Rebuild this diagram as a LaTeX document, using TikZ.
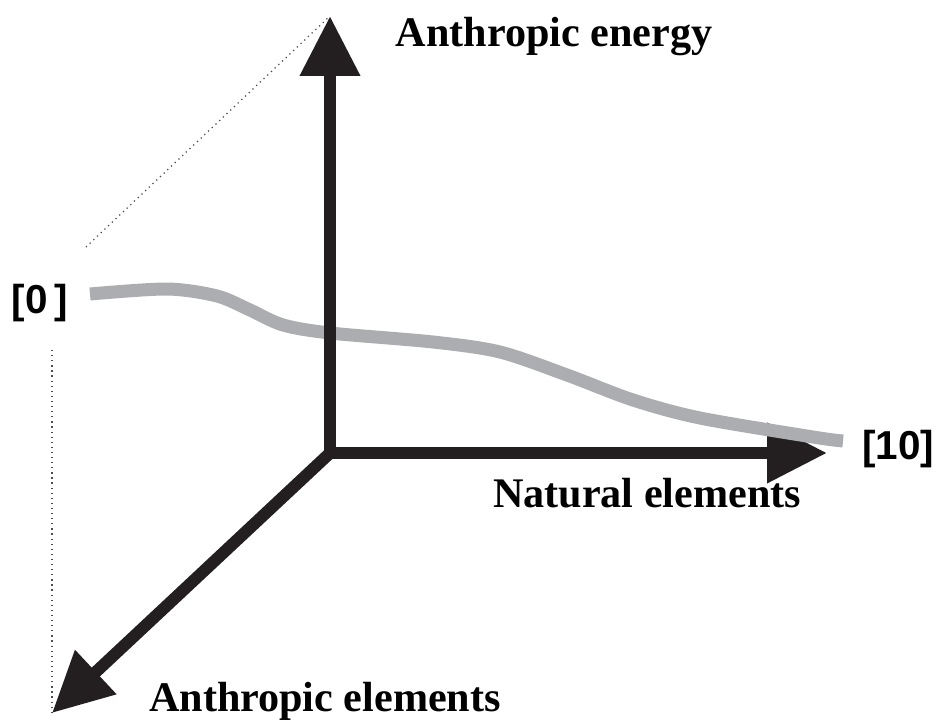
\documentclass[tikz,border=0pt]{standalone}
\usepackage{fontspec}
\setmainfont{Liberation Serif}
\newfontfamily\scalefont{Liberation Sans}
\usetikzlibrary{arrows.meta}

\begin{document}
\begin{tikzpicture}[
    x=0.02cm,y=-0.02cm,
    axis/.style={line width=0.24cm,draw={rgb,255:red,35;green,31;blue,32},
      -{Triangle[length=1.2cm,width=1.15cm]}},
    guide/.style={line width=0.7pt,dash pattern=on 0.7pt off 2.2pt,draw=black!70},
    trend/.style={line width=0.26cm,draw={rgb,255:red,172;green,173;blue,177}},
    axislabel/.style={font=\fontsize{24}{28}\selectfont\bfseries,anchor=base},
    endlabel/.style={font=\scalefont\fontsize{23}{27}\selectfont\bfseries,anchor=base}
    ]
    \useasboundingbox (0,0) rectangle (937,720);

    \coordinate (origin) at (330,453);
    \coordinate (energytip) at (330,16);
    \coordinate (naturaltip) at (827,453);
    \coordinate (anthropictip) at (52,713);
    \coordinate (guidetop) at (86,247);
    \coordinate (guidelow) at (52,350);

    % dotted guides
    \draw[guide] (guidetop) -- (energytip);
    \draw[guide] (guidelow) -- (anthropictip);

    % axes (the trend line runs over the horizontal one)
    \draw[axis] (origin) -- (naturaltip);

    \draw[trend] plot[smooth,tension=0.5] coordinates {
      (90,294) (167,289) (217,296) (250,310) (283,325) (330,333)
      (433,342) (500,352) (567,375) (633,400) (700,418) (813,437) (843,441)};

    \draw[axis] (origin) -- (energytip);
    \draw[axis] (origin) -- (anthropictip);

    \node[axislabel] (energy) at (554,47) {Anthropic energy};
    \node[axislabel] (natural) at (647,507) {Natural elements};
    \node[axislabel] (anthropic) at (325,711) {Anthropic elements};
    \node[endlabel] (low) at (40,313) {[0\,]};
    \node[endlabel] (high) at (898,459) {[10]};

  \end{tikzpicture}
\end{document}
